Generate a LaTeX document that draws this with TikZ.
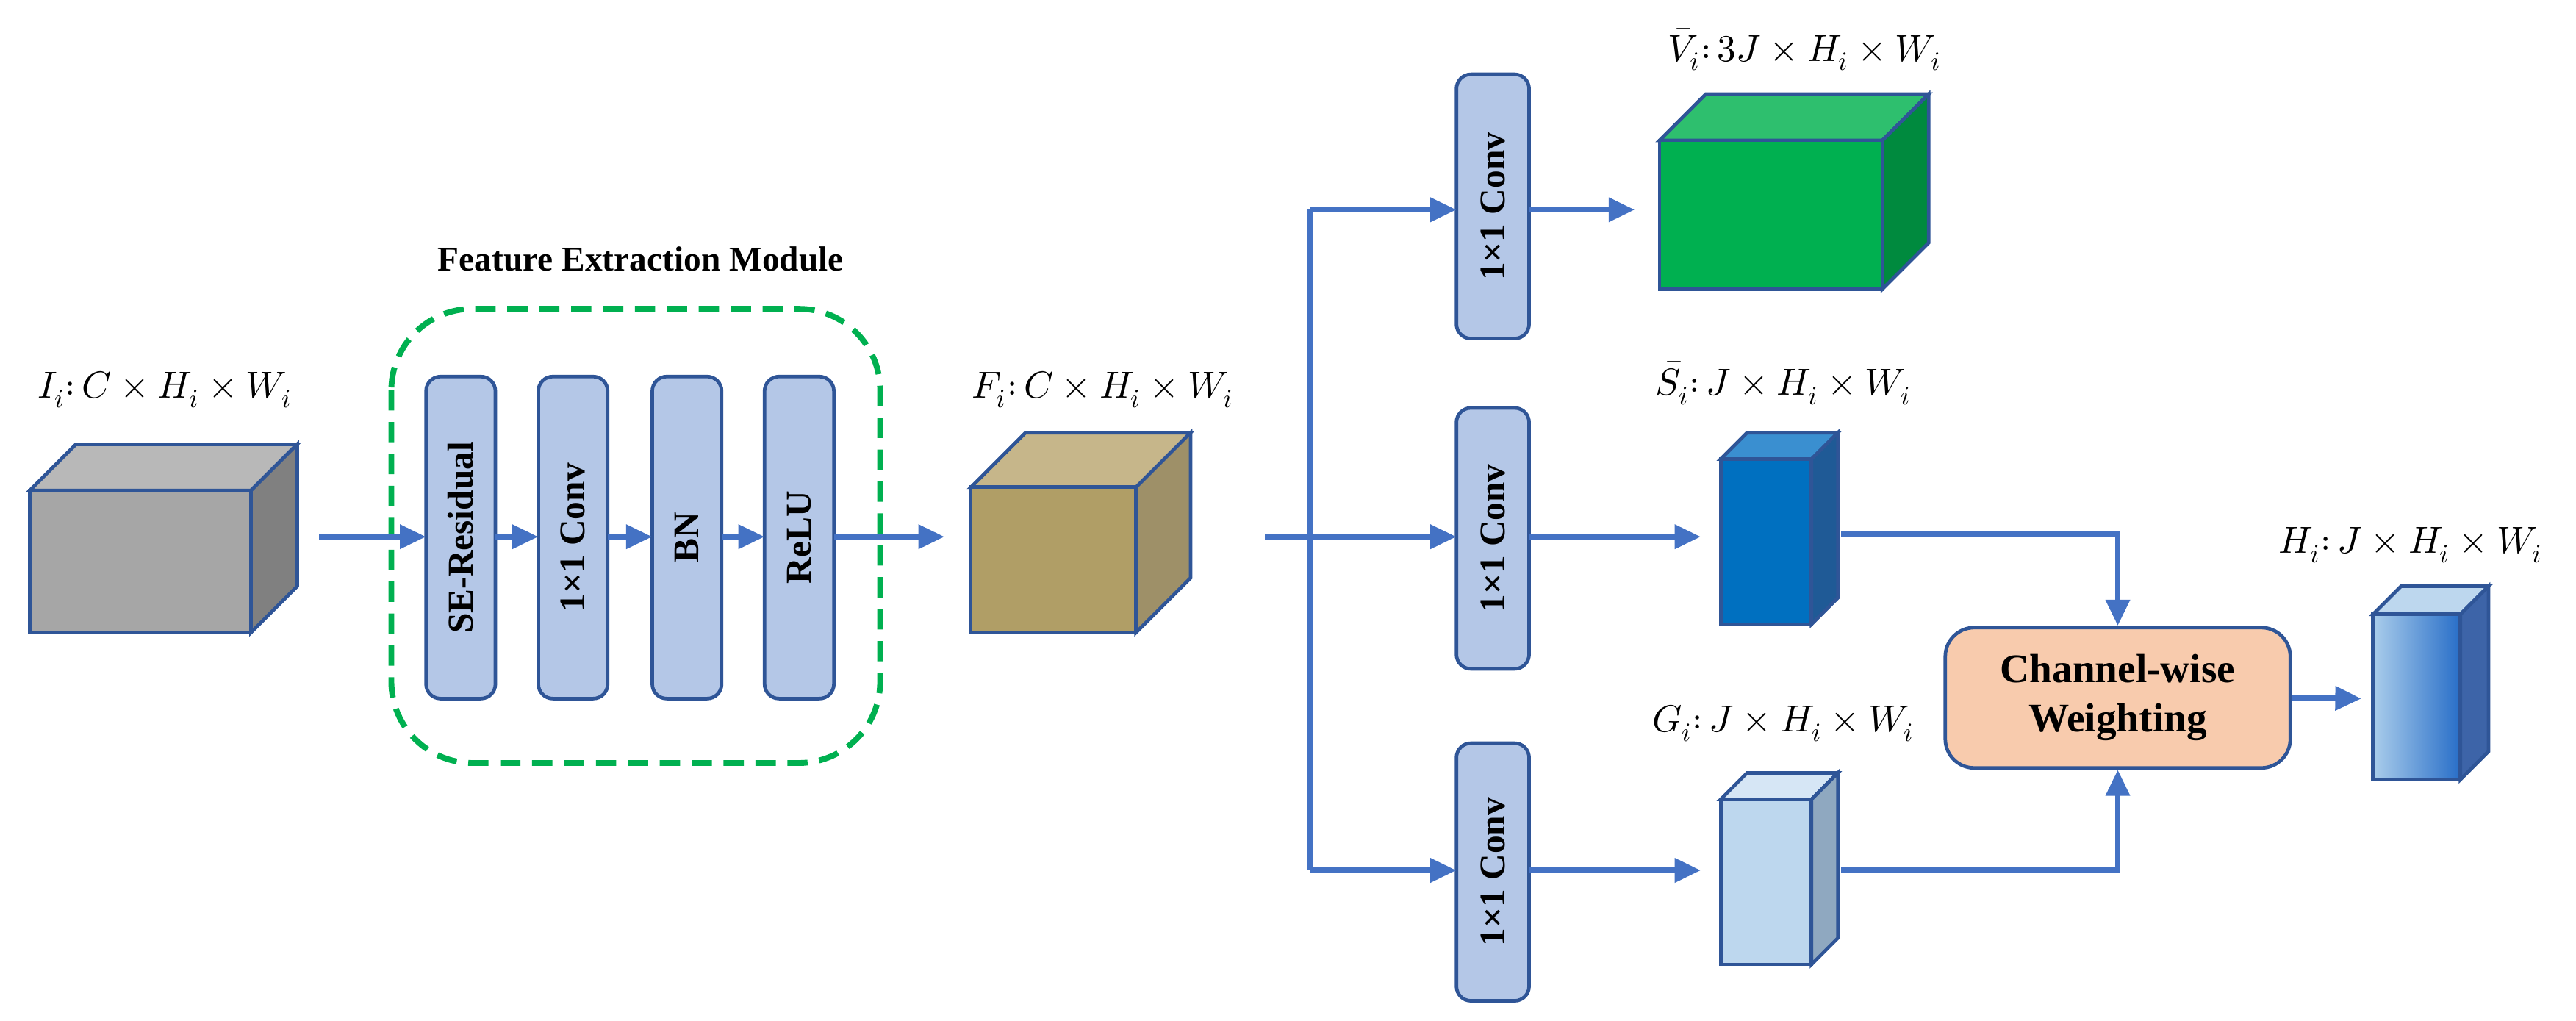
\documentclass[tikz,border=0pt]{standalone}
\usepackage{fontspec}
\setmainfont{Liberation Serif}
\usepackage{unicode-math}
\setmathfont{Latin Modern Math}
\usetikzlibrary{arrows.meta}
\definecolor{ln}{HTML}{4472C4}
\definecolor{bd}{HTML}{2F5597}
\definecolor{bar}{HTML}{B4C7E7}
\definecolor{fF}{HTML}{B09E66}\definecolor{fT}{HTML}{C6B68A}\definecolor{fS}{HTML}{9E9068}
\definecolor{vF}{HTML}{00B050}\definecolor{vT}{HTML}{2EBF6E}\definecolor{vS}{HTML}{008A3E}
\definecolor{sF}{HTML}{0070C0}\definecolor{sT}{HTML}{3A8FD0}\definecolor{sS}{HTML}{1F5A96}
\definecolor{gF}{HTML}{BDD7EE}\definecolor{gT}{HTML}{D6E6F5}\definecolor{gS}{HTML}{8FA8C0}
\definecolor{iF}{HTML}{A6A6A6}\definecolor{iT}{HTML}{B8B8B8}\definecolor{iS}{HTML}{808080}
\definecolor{gr}{HTML}{00B050}
\definecolor{org}{HTML}{F8CBAD}
\definecolor{hT}{HTML}{BDD7EE}\definecolor{hS}{HTML}{3D64A8}
\definecolor{hL}{HTML}{AACDEB}\definecolor{hR}{HTML}{286EC8}
\newcommand\mycube[8]{%
 \fill[#7,draw=bd,line width=1.2pt] (#1,#2)--++(#5,-#5)--(#3+#5,#2-#5)--(#3,#2)--cycle;
 \fill[#8,draw=bd,line width=1.2pt] (#3,#2)--(#3+#5,#2-#5)--(#3+#5,#4-#5)--(#3,#4)--cycle;
 \fill[#6,draw=bd,line width=1.2pt] (#1,#2) rectangle (#3,#4);}
\newcommand\cl{\mathord{:}\,}
\begin{document}
\begin{tikzpicture}[x=0.02cm,y=-0.02cm,
 arr/.style={ln,line width=2pt,-{Triangle[length=9pt,width=8pt]}},
 lin/.style={ln,line width=2pt},
 lbl/.style={font=\fontsize{13}{15}\selectfont},
 bt/.style={font=\bfseries\fontsize{12.5}{14}\selectfont,rotate=90}]
\useasboundingbox (0,0) rectangle (1560,618);
% input cube
\mycube{18}{297}{152}{383}{28}{iF}{iT}{iS}
\node[lbl] (li) at (100,236) {$I_i\cl C\times H_i\times W_i$};
% module
\draw[gr,dashed,dash pattern=on 7pt off 4pt,line width=2pt,rounded corners=28pt] (237,187) rectangle (533,462);
\node[font=\bfseries\fontsize{12}{14}\selectfont] (title) at (388,157) {Feature Extraction Module};
\foreach \n/\x/\t in {a/279/SE-Residual,b/347/1×1 Conv,c/416/BN,d/484/ReLU}{
 \draw[draw=bd,fill=bar,line width=1.2pt,rounded corners=5pt] (\x-21,228) rectangle (\x+21,423);
 \coordinate (\n l) at (\x-21,325); \coordinate (\n r) at (\x+21,325);
 \node[bt] (\n) at (\x,325.5) {\t};}
\coordinate (s0) at (193,325);
\draw[arr] (s0)--(al);
\draw[arr] (ar)--(bl); \draw[arr] (br)--(cl); \draw[arr] (cr)--(dl);
\coordinate (f0) at (572,325);
\draw[arr] (dr)--(f0);
% F cube
\mycube{588}{295}{688}{383}{33}{fF}{fT}{fS}
\node[lbl] (lf) at (668,236) {$F_i\cl C\times H_i\times W_i$};
% split
\coordinate (sp) at (766,325); \coordinate (v) at (793,325);
\coordinate (vt) at (793,127); \coordinate (vb) at (793,527);
\draw[lin] (sp)--(v); \draw[lin] (vt)--(vb);
\foreach \n/\yt/\yb in {t/45/205,m/247/405,g/450/606}{
 \draw[draw=bd,fill=bar,line width=1.2pt,rounded corners=5pt] (882,\yt) rectangle (926,\yb);
 \node[bt] (c\n) at (904,{(\yt+\yb)/2}) {1×1 Conv};}
\coordinate (ct) at (882,127); \coordinate (cm) at (882,325); \coordinate (cg) at (882,527);
\draw[arr] (vt)--(ct); \draw[arr] (v)--(cm); \draw[arr] (vb)--(cg);
\coordinate (ctr) at (926,127); \coordinate (cmr) at (926,325); \coordinate (cgr) at (926,527);
\coordinate (vg) at (990,127); \coordinate (sg) at (1030,325); \coordinate (gg) at (1030,527);
\draw[arr] (ctr)--(vg); \draw[arr] (cmr)--(sg); \draw[arr] (cgr)--(gg);
% V cube
\mycube{1005}{85}{1140}{175}{28}{vF}{vT}{vS}
\node[lbl] (lv) at (1093,30) {$\bar V_i\cl 3J\times H_i\times W_i$};
% S cube
\mycube{1042}{278}{1097}{378}{16}{sF}{sT}{sS}
\node[lbl] (ls) at (1080,232) {$\bar S_i\cl J\times H_i\times W_i$};
% G cube
\mycube{1042}{484}{1097}{584}{16}{gF}{gT}{gS}
\node[lbl] (lg) at (1080,438) {$G_i\cl J\times H_i\times W_i$};
% channel-wise
\node[draw=bd,fill=org,line width=1.2pt,rounded corners=10pt,minimum width=4.18cm,minimum height=1.7cm,align=center,font=\bfseries\fontsize{14}{17}\selectfont] (cw) at (1282.5,422.5) {Channel-wise\\Weighting};
\coordinate (so) at (1115,323); \coordinate (go) at (1115,527);
\draw[arr] (so)-|(cw.north); \draw[arr] (go)-|(cw.south);
% H cube
\coordinate (ho) at (1430,423);
\draw[arr] (cw.east)--(ho);
\fill[hT,draw=bd,line width=1.2pt] (1437,372)--++(17,-17)--(1507,355)--(1490,372)--cycle;
\fill[hS,draw=bd,line width=1.2pt] (1490,372)--(1507,355)--(1507,455)--(1490,472)--cycle;
\shade[left color=hL,right color=hR] (1437,372) rectangle (1490,472);
\draw[bd,line width=1.2pt] (1437,372) rectangle (1490,472);
\node[lbl] (lh) at (1460,330) {$H_i\cl J\times H_i\times W_i$};
\end{tikzpicture}
\end{document}
